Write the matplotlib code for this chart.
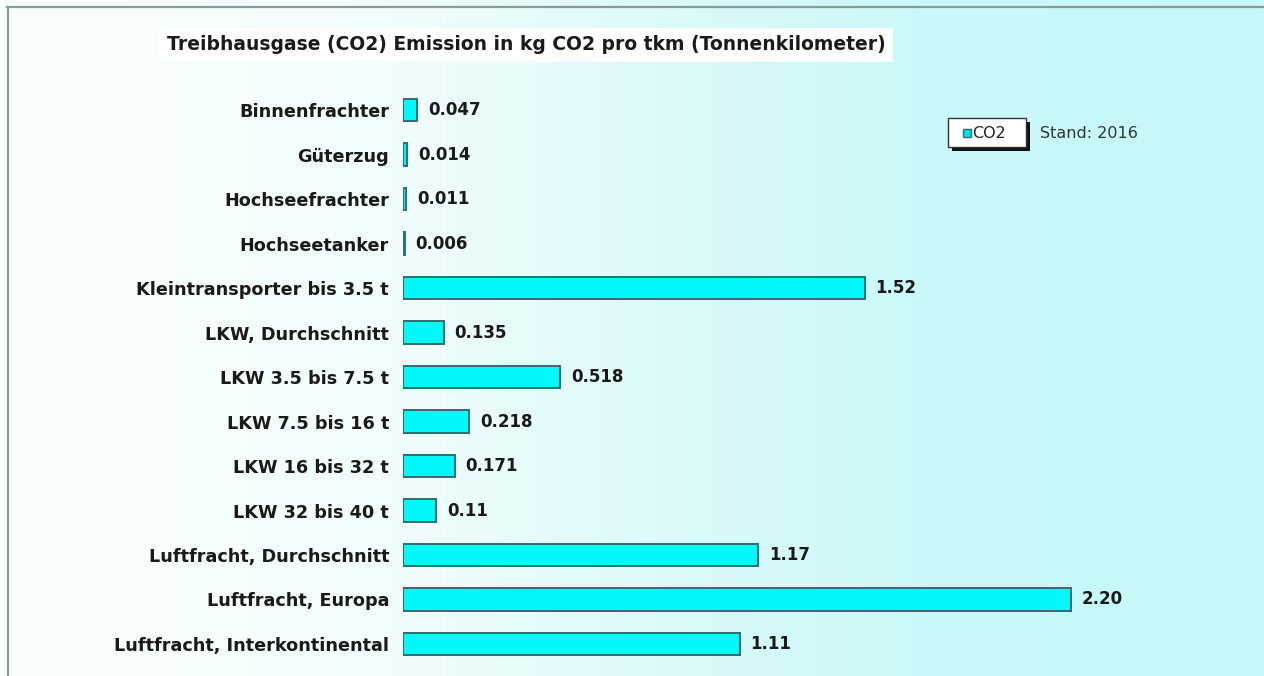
import matplotlib
matplotlib.use("Agg")
import matplotlib.pyplot as plt
import numpy as np
from matplotlib.colors import LinearSegmentedColormap
from matplotlib.lines import Line2D
from matplotlib.patches import Rectangle

categories = [
    "Binnenfrachter", "Güterzug", "Hochseefrachter", "Hochseetanker",
    "Kleintransporter bis 3.5 t", "LKW, Durchschnitt", "LKW 3.5 bis 7.5 t",
    "LKW 7.5 bis 16 t", "LKW 16 bis 32 t", "LKW 32 bis 40 t",
    "Luftfracht, Durchschnitt", "Luftfracht, Europa", "Luftfracht, Interkontinental",
]
values = [0.047, 0.014, 0.011, 0.006, 1.52, 0.135, 0.518, 0.218, 0.171, 0.11, 1.17, 2.20, 1.11]
value_labels = ["0.047", "0.014", "0.011", "0.006", "1.52", "0.135", "0.518",
                "0.218", "0.171", "0.11", "1.17", "2.20", "1.11"]
title = "Treibhausgase (CO2) Emission in kg CO2 pro tkm (Tonnenkilometer)"
series_name = "CO2"
note = "Stand: 2016"

plt.rcParams['font.family'] = ['DejaVu Sans']

W, H = 1264, 676
fig = plt.figure(figsize=(W / 100, H / 100), dpi=100)

# background gradient
bg = fig.add_axes([0, 0, 1, 1], zorder=0)
grad = np.linspace(0, 1, 400).reshape(1, -1)
cmap = LinearSegmentedColormap.from_list(
    "bg", [(0.0, "#fbfefe"), (0.3, "#f2fdfd"), (0.55, "#daf9f9"), (0.75, "#c9f8f8"), (1.0, "#c6f9f9")])
bg.imshow(grad, aspect="auto", cmap=cmap, extent=[0, 1, 0, 1], origin="lower")
bg.set_xlim(0, 1)
bg.set_ylim(0, 1)
bg.axis("off")

# frame lines (top and left)
fig.add_artist(Line2D([7 / W, 1], [1 - 6.5 / H, 1 - 6.5 / H], color="#8a9a9a", lw=1.6))
fig.add_artist(Line2D([7.5 / W, 7.5 / W], [0, 1 - 6.5 / H], color="#8a9a9a", lw=1.6))

# main axes
left_px, right_px = 403, 1264
top_px, bot_px = 87.75, 666.25
ax = fig.add_axes([left_px / W, 1 - bot_px / H, (right_px - left_px) / W, (bot_px - top_px) / H], zorder=2)
ax.patch.set_alpha(0)
xmax = (right_px - left_px) / ((1071 - 403) / 2.20)
y = np.arange(len(categories))
ax.barh(y, values, height=0.5, color="#00f8f8", edgecolor="#2f6f6f", linewidth=1.4)
ax.set_xlim(0, xmax)
ax.set_ylim(len(categories) - 0.5, -0.5)
ax.set_yticks(y)
ax.set_yticklabels(categories, fontsize=12.7, fontweight="bold", color="#1a1a1a")
ax.tick_params(axis="y", length=0, pad=10)
ax.set_xticks([])
for s in ax.spines.values():
    s.set_visible(False)
for yi, v, lab in zip(y, values, value_labels):
    ax.text(v + 0.035, yi, lab, va="center", ha="left", fontsize=12,
            fontweight="bold", color="#1a1a1a")

# title with white box
fig.text(526 / W, 1 - 45 / H, title, ha="center", va="center", fontsize=13.5,
         fontweight="bold", color="#1a1a1a", zorder=5,
         bbox=dict(boxstyle="square,pad=0.4", facecolor="white", edgecolor="none"))

# legend box with shadow
lx0, ly0, lw, lh = 948, 118, 78, 29
fig.add_artist(Rectangle(((lx0 + 4) / W, 1 - (ly0 + lh + 4) / H), lw / W, lh / H,
                         facecolor="#111111", edgecolor="none", zorder=4))
fig.add_artist(Rectangle((lx0 / W, 1 - (ly0 + lh) / H), lw / W, lh / H,
                         facecolor="white", edgecolor="#333333", lw=1.0, zorder=5))
fig.add_artist(Rectangle((963 / W, 1 - 137 / H), 8 / W, 8 / H,
                         facecolor="#00e0e0", edgecolor="#2f6f6f", lw=1.0, zorder=6))
fig.text(972 / W, 1 - 133 / H, series_name, ha="left", va="center", fontsize=11.5,
         color="#222222", zorder=6)
fig.text(1040 / W, 1 - 133 / H, note, ha="left", va="center", fontsize=11.5,
         color="#333333", zorder=6)

fig.savefig("out.png", dpi=100)
